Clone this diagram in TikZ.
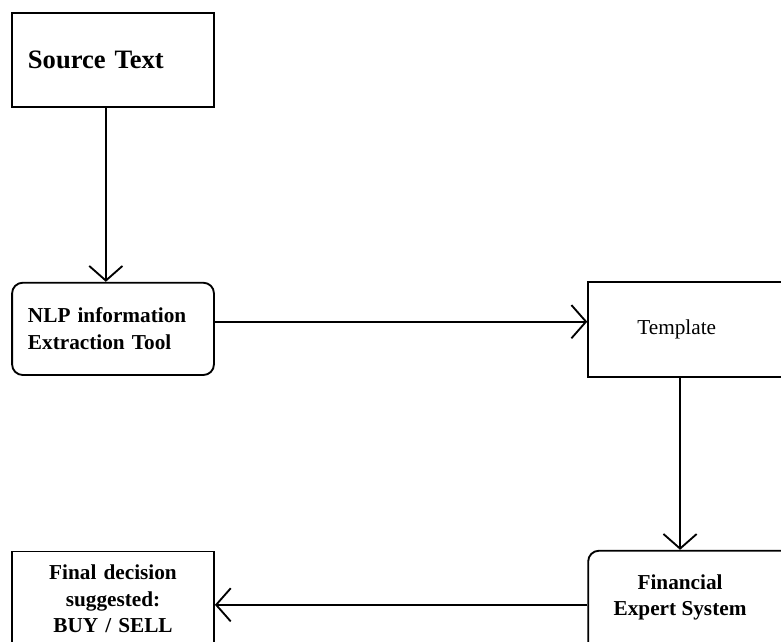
\documentclass[tikz,border=0pt]{standalone}
\usepackage{fontspec}
\setmainfont{Liberation Serif}
\usetikzlibrary{arrows.meta}

\tikzset{
  plainbox/.style={draw,line width=1.4pt,inner ysep=0pt},
  roundbox/.style={plainbox,rounded corners=0.28cm},
  bigtext/.style={font=\fontsize{20}{24}\selectfont\bfseries},
  boxtext/.style={font=\fontsize{16}{20}\selectfont\bfseries},
  flow/.style={line width=1.4pt,-{Straight Barb[length=11pt,width=25pt,line width=1.4pt]}},
}

\begin{document}
\begin{tikzpicture}
      \useasboundingbox (0,0) rectangle (20.66,16.98);
      \clip (0,0) rectangle (20.66,16.98);
      % Source text
      \node[plainbox,bigtext,minimum width=5.34cm,minimum height=2.49cm,inner xsep=0.42cm,text width=4.5cm,align=left] (src) at (2.99,15.39) {Source Text};
      % NLP tool
      \node[roundbox,boxtext,minimum width=5.34cm,minimum height=2.44cm,inner xsep=0.42cm,text width=4.5cm,align=left] (nlp) at (2.99,8.28) {NLP information\\Extraction Tool};
      % Template
      \node[plainbox,font=\fontsize{16}{20}\selectfont,minimum width=5.8cm,minimum height=2.51cm,inner xsep=1.3cm,text width=3.2cm,align=left] (tmpl) at (18.46,8.27) {Template};
      % Expert system
      \node[roundbox,minimum width=5.8cm,minimum height=2.9cm] (fes) at (18.46,0.96) {};
      \node[boxtext,align=center] (fes text) at (17.99,1.18) {Financial\\Expert System};
      % Decision
      \node[plainbox,boxtext,minimum width=5.34cm,minimum height=2.5cm,inner xsep=0.42cm,text width=4.5cm,align=center] (final) at (2.99,1.14) {Final decision\\suggested:\\BUY / SELL};
      % Arrows
      \draw[flow] ([xshift=-0.19cm]src.south) -- ([xshift=-0.19cm]nlp.north);
      \draw[flow] ([yshift=0.19cm]nlp.east) -- ([yshift=0.19cm]nlp.east -| tmpl.west);
      \draw[flow] (fes text |- tmpl.south) -- (fes text |- fes.north);
      \draw[flow] ([yshift=-0.2cm]fes text -| fes.west) -- ([yshift=-0.2cm]fes text -| final.east);
    \end{tikzpicture}
\end{document}
